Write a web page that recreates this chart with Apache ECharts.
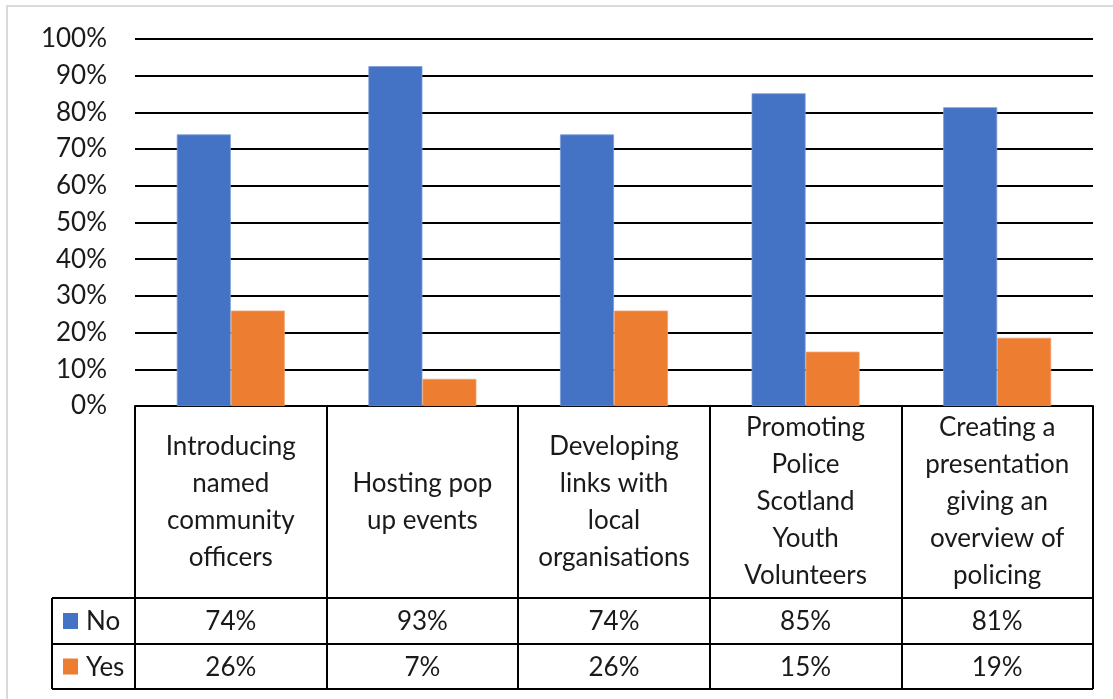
<!DOCTYPE html>
<html>
<head>
<meta charset="utf-8">
<script src="https://cdn.jsdelivr.net/npm/echarts@6/dist/echarts.min.js"></script>
<style>
  html, body { margin: 0; padding: 0; background: #fff; }
  #chart { width: 1113px; height: 699px; }
</style>
</head>
<body>
<div id="chart"></div>
<script>
// data
const categories = [
  "Introducing\nnamed\ncommunity\nofficers",
  "Hosting pop\nup events",
  "Developing\nlinks with\nlocal\norganisations",
  "Promoting\nPolice\nScotland\nYouth\nVolunteers",
  "Creating a\npresentation\ngiving an\noverview of\npolicing"
];
const seriesNames = ["No", "Yes"];
const noValues = [0.74, 0.926, 0.74, 0.852, 0.814];
const yesValues = [0.26, 0.074, 0.26, 0.148, 0.186];
const colors = ["#4472C4", "#ED7D31"];

const FONT = "Lato";
const TXT = "#1a1a1a";
const FS = 26;

// layout
const W = 1113, H = 699;
const gridL = 135, gridR = 1093, gridT = 39, gridB = 406;
const tableL = 52;
const rowNo = 598, rowYes = 644, tableBot = 689;

const chart = echarts.init(document.getElementById("chart"));

const pct = v => Math.round(v * 100) + "%";

chart.setOption({
  animation: false,
  backgroundColor: "#fff",
  textStyle: { fontFamily: FONT },
  grid: { left: gridL, right: W - gridR, top: gridT, bottom: H - gridB },
  xAxis: {
    type: "category",
    data: categories,
    axisLine: { lineStyle: { color: "#000", width: 2 } },
    axisTick: {
      show: true,
      alignWithLabel: false,
      length: tableBot - gridB,
      lineStyle: { color: "#000", width: 2 }
    },
    axisLabel: {
      interval: 0,
      margin: 96,
      verticalAlign: "middle",
      fontSize: 26,
      lineHeight: 37,
      color: TXT,
      fontFamily: FONT
    }
  },
  yAxis: {
    type: "value",
    min: 0,
    max: 1,
    interval: 0.1,
    axisLine: { show: false },
    axisTick: { show: false },
    splitLine: { lineStyle: { color: "#000", width: 2 } },
    axisLabel: {
      formatter: v => Math.round(v * 100) + "%",
      fontSize: FS,
      color: TXT,
      margin: 28,
      fontFamily: FONT
    }
  },
  series: [
    {
      name: seriesNames[0], type: "bar", data: noValues,
      barWidth: 54, barGap: "0%",
      itemStyle: { color: colors[0], borderColor: "#7a9ad6", borderWidth: 0.8 }
    },
    {
      name: seriesNames[1], type: "bar", data: yesValues,
      barWidth: 54, barGap: "0%",
      itemStyle: { color: colors[1], borderColor: "#f3a26e", borderWidth: 0.8 }
    }
  ]
});

// data table below the axis
const els = [];
// outer light border (top and left only visible)
els.push({ type: "rect", shape: { x: 7, y: 6, width: W + 20, height: H + 20 },
  style: { fill: null, stroke: "#d9d9d9", lineWidth: 2 }, z: -1 });
const line = (x1, y1, x2, y2) => els.push({ type: "line",
  shape: { x1, y1, x2, y2 }, style: { stroke: "#000", lineWidth: 2 }, z: 10 });
line(tableL, rowNo, gridR, rowNo);
line(tableL, rowYes, gridR, rowYes);
line(tableL, tableBot, gridR, tableBot);
line(tableL, rowNo, tableL, tableBot);

const rows = [noValues, yesValues];
const rowMid = [(rowNo + rowYes) / 2, (rowYes + tableBot) / 2];
rows.forEach((vals, r) => {
  els.push({ type: "rect", shape: { x: 63, y: rowMid[r] - 8, width: 15, height: 16 },
    style: { fill: colors[r] }, z: 10 });
  els.push({ type: "text", x: 86, y: rowMid[r] + 1,
    style: { text: seriesNames[r], font: FS + "px " + FONT, fill: TXT,
      textAlign: "left", textVerticalAlign: "middle" }, z: 10 });
  vals.forEach((v, i) => {
    const cx = chart.convertToPixel({ xAxisIndex: 0 }, i);
    els.push({ type: "text", x: cx, y: rowMid[r] + 1,
      style: { text: pct(v), font: FS + "px " + FONT, fill: TXT,
        textAlign: "center", textVerticalAlign: "middle" }, z: 10 });
  });
});

chart.setOption({ graphic: els });
</script>
</body>
</html>
